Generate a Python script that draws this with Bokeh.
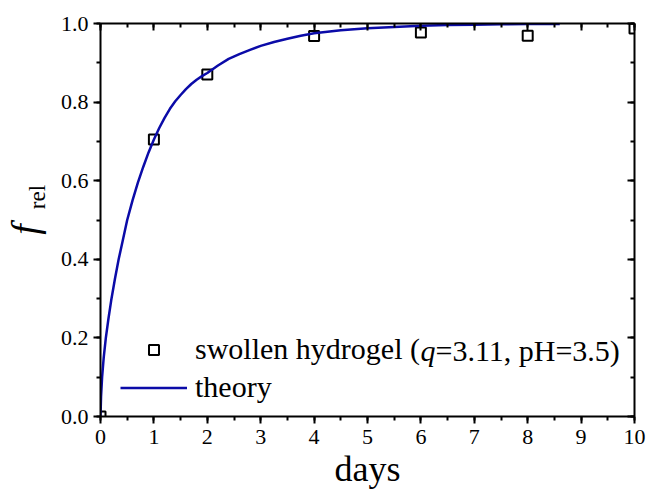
from bokeh.embed import file_html
from bokeh.models import (CustomJSTickFormatter, FixedTicker, Label, Legend,
                          LegendItem, LinearAxis, PrintfTickFormatter,
                          Range1d, SingleIntervalTicker)
from bokeh.plotting import figure
from bokeh.resources import INLINE

# Measured release fraction of the swollen hydrogel
days = [0, 1, 2, 4, 6, 8, 10]
f_rel = [0.0, 0.705, 0.870, 0.968, 0.977, 0.969, 0.987]

# Theoretical release curve
theory_days = [0.0, 0.01, 0.03, 0.06, 0.1, 0.15, 0.2, 0.27, 0.34, 0.42, 0.5,
               0.6, 0.7, 0.8, 0.9, 1.0, 1.1, 1.2, 1.3, 1.4, 1.5, 1.6, 1.7,
               1.8, 1.9, 2.0, 2.2, 2.4, 2.6, 2.8, 3.0, 3.25, 3.5, 3.75, 4.0,
               4.5, 5.0, 5.5, 6.0, 6.5, 7.0, 7.5, 8.0, 8.6]
theory_f = [0.0, 0.05, 0.10, 0.15, 0.20, 0.25, 0.295, 0.35, 0.40, 0.45, 0.50,
            0.55, 0.595, 0.635, 0.672, 0.705, 0.734, 0.76, 0.783, 0.802,
            0.818, 0.833, 0.846, 0.857, 0.866, 0.874, 0.893, 0.91, 0.922,
            0.933, 0.943, 0.953, 0.961, 0.969, 0.975, 0.983, 0.988, 0.991,
            0.994, 0.996, 0.997, 0.998, 0.999, 0.999]

SERIF = "'Liberation Serif', 'Times New Roman', serif"
W, H = 648, 491
LEFT, RIGHT, TOP, BOTTOM = 100, 14, 23, 75
NBSP = "\u00a0"

p = figure(width=W, height=H, output_backend="svg", toolbar_location=None,
           x_range=Range1d(0, 10), y_range=Range1d(0, 1.0),
           x_axis_location=None, y_axis_location=None,
           min_border_left=LEFT, min_border_right=RIGHT,
           min_border_top=TOP, min_border_bottom=BOTTOM)
p.grid.visible = False
p.outline_line_color = None
p.background_fill_color = "white"
p.border_fill_color = "white"


def style_axis(ax, outward, labels=True):
    ax.axis_line_width = 2
    ax.axis_line_color = "black"
    ax.major_tick_line_width = 2
    ax.minor_tick_line_width = 2
    ax.major_tick_line_color = "black"
    ax.minor_tick_line_color = "black"
    if outward:
        ax.major_tick_out, ax.major_tick_in = 7, 0
        ax.minor_tick_out, ax.minor_tick_in = 4, 0
    else:
        ax.major_tick_out, ax.major_tick_in = 0, 7
        ax.minor_tick_out, ax.minor_tick_in = 0, 4
    if labels:
        ax.major_label_text_font = SERIF
        ax.major_label_text_font_size = "22px"
        ax.major_label_text_font_style = "normal"
        ax.major_label_text_color = "black"
    else:
        ax.formatter = CustomJSTickFormatter(code="return ''")
        ax.major_label_text_font_size = "1px"
        ax.major_label_standoff = 0


def title_axis(text, size, standoff, italic=False):
    """A tick-less left axis that only carries a piece of the y title."""
    ax = LinearAxis(ticker=FixedTicker(ticks=[]), axis_label=text)
    ax.axis_line_color = None
    ax.major_tick_out = ax.major_tick_in = 0
    ax.minor_tick_out = ax.minor_tick_in = 0
    ax.major_label_text_font_size = "1px"
    ax.major_label_standoff = 0
    ax.axis_label_text_font = SERIF
    ax.axis_label_text_font_size = size
    ax.axis_label_text_font_style = "italic" if italic else "normal"
    ax.axis_label_text_color = "black"
    ax.axis_label_standoff = standoff
    return ax


def x_ticker():
    return SingleIntervalTicker(interval=1, num_minor_ticks=2)


def y_ticker():
    return SingleIntervalTicker(interval=0.2, num_minor_ticks=2)


bottom = LinearAxis(ticker=x_ticker(), axis_label="days")
style_axis(bottom, outward=True)
bottom.major_label_standoff = 6
bottom.axis_label_text_font = SERIF
bottom.axis_label_text_font_size = "36px"
bottom.axis_label_text_font_style = "normal"
bottom.axis_label_text_color = "black"
bottom.axis_label_standoff = 2
p.add_layout(bottom, "below")

left = LinearAxis(ticker=y_ticker(), formatter=PrintfTickFormatter(format="%.1f"))
style_axis(left, outward=True)
left.major_label_standoff = 5
p.add_layout(left, "left")

# y title: subscript "rel" next to the ticks, italic f further out
p.add_layout(title_axis(NBSP * 8 + "rel", "23px", 8), "left")
p.add_layout(title_axis("f" + NBSP * 2, "38px", -24, italic=True), "left")

top = LinearAxis(ticker=x_ticker())
style_axis(top, outward=False, labels=False)
p.add_layout(top, "above")

right = LinearAxis(ticker=y_ticker())
style_axis(right, outward=False, labels=False)
p.add_layout(right, "right")

# Data points, then the theory curve over them
pts = p.scatter(days, f_rel, marker="square", size=10, line_color="black",
                line_width=2, fill_color=None)
curve = p.line(theory_days, theory_f, line_color="#0b0ba8", line_width=2.5)

# Legend: glyph samples plus the first part of each entry's text
LEG_FS = 30
legend = Legend(
    items=[LegendItem(label="swollen hydrogel (", renderers=[pts]),
           LegendItem(label="theory", renderers=[curve])],
    location=(20, 12), orientation="vertical",
    glyph_width=67, glyph_height=25, label_height=25, label_standoff=8,
    spacing=4, padding=0, margin=0,
    border_line_color=None, background_fill_alpha=0,
    label_text_font=SERIF, label_text_font_size=f"{LEG_FS}px",
    label_text_color="black")
p.add_layout(legend)

# Rest of the first entry, with the italic q
text_x0 = 20 + 67 + 8
row1_y = 66
w_prefix = 7.499 * LEG_FS  # advance of "swollen hydrogel ("
w_q = 0.5 * LEG_FS
common = dict(x_units="screen", y_units="screen", text_font=SERIF,
              text_font_size=f"{LEG_FS}px", text_color="black",
              text_baseline="middle", text_align="left")
p.add_layout(Label(x=text_x0 + w_prefix, y=row1_y, text="q",
                   text_font_style="italic", **common))
p.add_layout(Label(x=text_x0 + w_prefix + w_q, y=row1_y,
                   text="=3.11, pH=3.5)", **common))

open("out.html", "w").write(file_html(p, INLINE))
